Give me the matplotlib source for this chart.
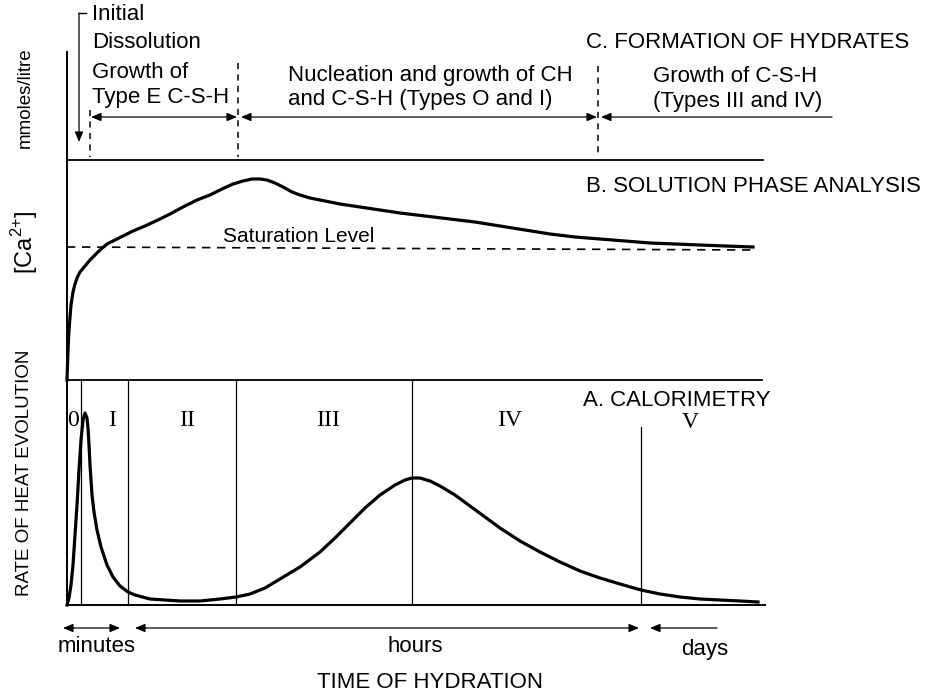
import matplotlib
matplotlib.use("Agg")
import matplotlib.pyplot as plt

plt.rcParams['font.family'] = ['Liberation Sans', 'DejaVu Sans']
plt.rcParams['mathtext.fontset'] = 'custom'
plt.rcParams['mathtext.rm'] = 'Liberation Sans'

# A. calorimetry curve (time position, heat level)
heat_t = [67, 69, 71, 73, 75, 77, 79, 81, 83, 85, 87, 88, 89, 90, 92, 94, 97, 101,
          107, 113, 120, 128, 135, 150, 165, 180, 200, 220, 236, 250, 265, 280, 290,
          300, 320, 335, 350, 365, 380, 395, 405, 412, 420, 430, 440, 455, 470, 485,
          500, 520, 540, 560, 580, 600, 620, 641, 660, 680, 700, 720, 740, 758]
heat_y = [605, 598, 585, 565, 535, 505, 470, 440, 420, 413, 418, 428, 445, 465, 495,
          512, 530, 547, 565, 577, 586, 592, 595, 599, 600, 601, 601, 599, 597, 594,
          588, 579, 573, 567, 552, 538, 523, 508, 495, 485, 480, 478, 478, 481, 486,
          495, 506, 517, 528, 541, 552, 562, 571, 578, 584, 590, 594, 597, 599, 600,
          601, 602]

# B. solution phase curve ([Ca2+])
ca_t = [67, 68, 69, 71, 73, 75, 77, 80, 85, 90, 95, 100, 107, 115, 125, 133, 145, 160,
        170, 183, 197, 210, 222, 233, 243, 252, 260, 267, 275, 283, 292, 300, 310, 320,
        340, 360, 380, 400, 425, 450, 475, 500, 525, 550, 575, 600, 625, 650, 675, 700,
        725, 753]
ca_y = [380, 350, 330, 305, 292, 284, 278, 272, 266, 260, 255, 250, 244, 240, 235,
        231, 226, 219, 214, 207, 200, 195, 189, 184, 181, 179, 179, 180, 183, 187,
        192, 195, 198, 200, 204, 207, 210, 213, 216, 219, 222, 226, 230, 234, 237,
        239, 241, 243, 244, 245, 246, 247]
sat_t = [67, 757]
sat_y = [247, 250]

# phase boundaries and labels
phase_x = [81, 128, 236, 412, 641]
phase_top = [380, 380, 380, 380, 427]
roman = ['0', 'I', 'II', 'III', 'IV', 'V']
roman_x = [73, 112, 187, 328, 510, 690]
roman_y = [420, 420, 420, 420, 420, 422]

# C. hydrate formation boundaries
c_bounds = [90, 238, 598]
c_tops = [110, 63, 66]

fig = plt.figure(figsize=(9.32, 6.95), dpi=100)
ax = fig.add_axes([0, 0, 1, 1])
ax.set_xlim(0, 932)
ax.set_ylim(695, 0)
ax.axis('off')

k = 'black'
# frame lines
ax.plot([67, 67], [52, 605], color=k, lw=1.4)
ax.plot([67, 763], [160, 160], color=k, lw=1.3)
ax.plot([67, 762], [380, 380], color=k, lw=1.3)
ax.plot([67, 765], [605, 605], color=k, lw=1.4)

# calorimetry
for x, top in zip(phase_x, phase_top):
    ax.plot([x, x], [top, 605], color=k, lw=0.9)
ax.plot(heat_t, heat_y, color=k, lw=2.3, solid_joinstyle='round')
for r, x, y in zip(roman, roman_x, roman_y):
    ax.text(x, y, r, family='Liberation Serif', fontsize=17, ha='center', va='center')
ax.text(583, 401, 'A. CALORIMETRY', fontsize=16, va='center')

# solution phase
ax.plot(sat_t, sat_y, color=k, lw=1.2, dashes=(5, 4))
ax.plot(ca_t, ca_y, color=k, lw=2.3, solid_joinstyle='round')
ax.text(223, 236, 'Saturation Level', fontsize=15, va='center')
ax.text(586, 186, 'B. SOLUTION PHASE ANALYSIS', fontsize=16, va='center')

# formation of hydrates
for x, top in zip(c_bounds, c_tops):
    ax.plot([x, x], [top, 157], color=k, lw=1.1, dashes=(4, 3.5))

arr2 = dict(arrowstyle='<|-|>,head_length=0.6,head_width=0.25', color=k, lw=0.9,
            shrinkA=0, shrinkB=0)
arr1 = dict(arrowstyle='-|>,head_length=0.6,head_width=0.25', color=k, lw=0.9,
            shrinkA=0, shrinkB=0)
ax.annotate('', xy=(237, 117), xytext=(91, 117), arrowprops=arr2)
ax.annotate('', xy=(597, 117), xytext=(241, 117), arrowprops=arr2)
ax.annotate('', xy=(601, 117), xytext=(832, 117), arrowprops=arr1)
ax.plot([79, 86], [13, 13], color=k, lw=1.0)
ax.annotate('', xy=(79, 142), xytext=(79, 13), arrowprops=arr1)

ax.text(92, 15, 'Initial', fontsize=16, va='center')
ax.text(92, 42, 'Dissolution', fontsize=16, va='center')
ax.text(92, 72, 'Growth of', fontsize=16, va='center')
ax.text(92, 98, 'Type E C-S-H', fontsize=16, va='center')
ax.text(288, 75, 'Nucleation and growth of CH', fontsize=16, va='center')
ax.text(288, 100, 'and C-S-H (Types O and I)', fontsize=16, va='center')
ax.text(653, 77, 'Growth of C-S-H', fontsize=16, va='center')
ax.text(653, 102, '(Types III and IV)', fontsize=16, va='center')
ax.text(586, 43, 'C. FORMATION OF HYDRATES', fontsize=16, va='center')

# time axis
ax.annotate('', xy=(120, 628), xytext=(63, 628), arrowprops=arr2)
ax.annotate('', xy=(639, 628), xytext=(135, 628), arrowprops=arr2)
ax.annotate('', xy=(650, 628), xytext=(717, 628), arrowprops=arr1)
ax.text(97, 646, 'minutes', fontsize=16, ha='center', va='center')
ax.text(415, 646, 'hours', fontsize=16, ha='center', va='center')
ax.text(705, 650, 'days', fontsize=16, ha='center', va='center')
ax.text(430, 682, 'TIME OF HYDRATION', fontsize=16, ha='center', va='center')

# y labels
ax.text(25, 473, 'RATE OF HEAT EVOLUTION', fontsize=13.5, rotation=90,
        ha='center', va='center')
ax.text(25, 242, '[Ca$^{2{+}}$]', fontsize=17, rotation=90,
        ha='center', va='center')
ax.text(25, 98, 'mmoles/litre', fontsize=13.5, rotation=90,
        ha='center', va='center')

fig.savefig('out.png', dpi=100)
